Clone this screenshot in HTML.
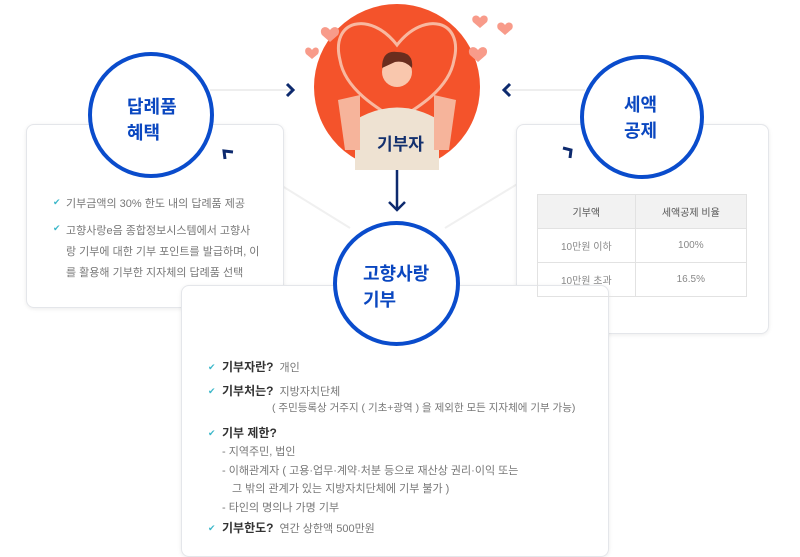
<!DOCTYPE html>
<html><head><meta charset="utf-8"><style>
body{margin:0;width:800px;height:540px;background:#fff;overflow:hidden;position:relative;font-family:"Liberation Sans","Noto Sans CJK KR",sans-serif}
.card{position:absolute;background:#fff;border:1px solid #e4e6ea;border-radius:8px;box-shadow:0 1px 4px rgba(0,0,0,.08)}
.t{position:absolute;font-size:11px;color:#777;white-space:nowrap}
.ck{color:#3bb7c9;font-size:9px;position:absolute}
.b{color:#333;font-weight:bold;font-size:12px;margin-right:6px}
.circ{position:absolute;border:4px solid #0a4ccc;border-radius:50%;background:#fff;box-sizing:border-box}
.ct{position:absolute;color:#0a47c0;font-weight:bold;font-size:18px;line-height:26px}
table{border-collapse:collapse;font-size:10px;color:#888;text-align:center}
td,th{border:1px solid #e2e2e2;height:33px;padding:0}
th{background:#f2f2f2;color:#555;font-weight:normal}
</style></head><body>
<svg width="800" height="540" style="position:absolute;left:0;top:0">
<line x1="210" y1="90" x2="290" y2="90" stroke="#eee" stroke-width="2"/>
<line x1="505" y1="90" x2="585" y2="90" stroke="#eee" stroke-width="2"/>
<line x1="232" y1="155" x2="350" y2="228" stroke="#f0f0f0" stroke-width="2"/>
<line x1="565" y1="155" x2="445" y2="228" stroke="#f0f0f0" stroke-width="2"/>
</svg>
<div class="card" style="left:26px;top:124px;width:256px;height:182px"></div>
<div class="card" style="left:516px;top:124px;width:251px;height:208px"></div>
<div class="card" style="left:181px;top:285px;width:426px;height:270px"></div>
<svg width="800" height="540" style="position:absolute;left:0;top:0">
<polyline points="287,84 293,90 287,96" fill="none" stroke="#0d2a6e" stroke-width="3"/>
<polyline points="510,84 504,90 510,96" fill="none" stroke="#0d2a6e" stroke-width="3"/>
<polyline points="225,159 224,151 233,152" fill="none" stroke="#0d2a6e" stroke-width="3"/>
<polyline points="563,148 571,150 570,158" fill="none" stroke="#0d2a6e" stroke-width="3"/>
<line x1="397" y1="170" x2="397" y2="210" stroke="#0d2a6e" stroke-width="2.5"/>
<polyline points="389,202 397,210 405,202" fill="none" stroke="#0d2a6e" stroke-width="2.5"/>
<circle cx="397" cy="87" r="83" fill="#f4532b"/>
<path d="M397 45 C370 10 330 20 340 60 C345 90 380 110 397 120 C414 110 449 90 454 60 C464 20 424 10 397 45Z" fill="none" stroke="#f8b8a0" stroke-width="3"/>
<path d="M355 170 L355 120 Q397 95 439 120 L439 170Z" fill="#eee2d2"/>
<path d="M338 100 L360 95 L360 150 L345 150Z" fill="#f6b49b"/>
<path d="M456 100 L434 95 L434 150 L449 150Z" fill="#f6b49b"/>
<circle cx="397" cy="72" r="15" fill="#f9c7ad"/>
<path d="M382 68 Q382 50 397 52 Q414 52 412 68 Q405 60 395 62 Z" fill="#6a2d1e"/>
<path d="M330 30 c-4-6-12-2-8 5 l8 7 8-7 c4-7-4-11-8-5z" fill="#f89b8a"/>
<path d="M480 18 c-3-5-10-2-7 4 l7 6 7-6 c3-6-4-9-7-4z" fill="#f89b8a"/>
<path d="M505 25 c-3-5-10-2-7 4 l7 6 7-6 c3-6-4-9-7-4z" fill="#f89b8a"/>
<path d="M478 50 c-4-6-12-2-8 5 l8 7 8-7 c4-7-4-11-8-5z" fill="#f89b8a"/>
<path d="M312 50 c-3-5-9-2-6 4 l6 5 6-5 c3-6-3-9-6-4z" fill="#f89b8a"/>
</svg>
<div class="ct" style="left:377px;top:132px;color:#13306e;font-size:17px">기부자</div>
<div class="circ" style="left:88px;top:52px;width:126px;height:126px"></div>
<div class="ct" style="left:127px;top:94px">답례품<br>혜택</div>
<div class="circ" style="left:580px;top:55px;width:124px;height:124px"></div>
<div class="ct" style="left:624px;top:92px">세액<br>공제</div>
<div class="circ" style="left:333px;top:221px;width:127px;height:125px"></div>
<div class="ct" style="left:363px;top:261px">고향사랑<br>기부</div>
<span class="ck" style="left:53px;top:197px">✔</span><div class="t" style="left:66px;top:195px">기부금액의 30% 한도 내의 답례품 제공</div>
<span class="ck" style="left:53px;top:223px">✔</span><div class="t" style="left:66px;top:221px;line-height:21px">고향사랑e음 종합정보시스템에서 고향사<br>랑 기부에 대한 기부 포인트를 발급하며, 이<br>를 활용해 기부한 지자체의 답례품 선택</div>
<table style="position:absolute;left:537px;top:194px;width:210px"><tr><th>기부액</th><th>세액공제 비율</th></tr><tr><td>10만원 이하</td><td>100%</td></tr><tr><td>10만원 초과</td><td>16.5%</td></tr></table>
<span class="ck" style="left:208px;top:362px">✔</span><div class="t" style="left:222px;top:358px"><span class="b">기부자란?</span>개인</div>
<span class="ck" style="left:208px;top:386px">✔</span><div class="t" style="left:222px;top:382px"><span class="b">기부처는?</span>지방자치단체</div>
<div class="t" style="left:272px;top:400px;font-size:10.5px">( 주민등록상 거주지 ( 기초+광역 ) 을 제외한 모든 지자체에 기부 가능)</div>
<span class="ck" style="left:208px;top:428px">✔</span><div class="t" style="left:222px;top:424px"><span class="b">기부 제한?</span></div>
<div class="t" style="left:222px;top:443px">-  지역주민, 법인</div>
<div class="t" style="left:222px;top:462px">-  이해관계자 ( 고용·업무·계약·처분 등으로 재산상 권리·이익 또는</div>
<div class="t" style="left:232px;top:480px">그 밖의 관계가 있는 지방자치단체에 기부 불가 )</div>
<div class="t" style="left:222px;top:499px">-  타인의 명의나 가명 기부</div>
<span class="ck" style="left:208px;top:523px">✔</span><div class="t" style="left:222px;top:519px"><span class="b">기부한도?</span>연간 상한액 500만원</div>
</body></html>
